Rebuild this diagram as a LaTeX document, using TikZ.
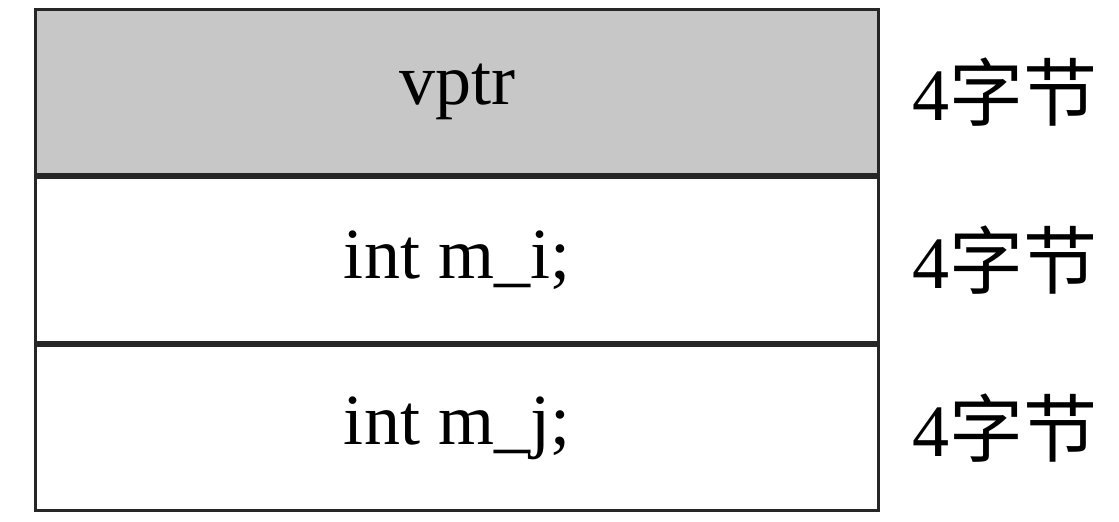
\documentclass[tikz,border=0pt]{standalone}
\usepackage{fontspec}
\setmainfont{Liberation Serif}
\newfontfamily\cjk{Noto Sans CJK SC}
\begin{document}
\begin{tikzpicture}[x=1pt,y=-1pt,
  cell/.style={draw=black!85,line width=3pt,minimum width=843pt,minimum height=165pt,inner sep=0pt,font=\fontsize{72}{86}\selectfont},
  size/.style={font=\fontsize{74}{88}\selectfont,inner sep=0pt}]
\useasboundingbox (0,0) rectangle (1119,522);
\fill[white] (0,0) rectangle (1119,522);
\node[cell,fill=black!22,anchor=north west] (vptr) at (34,8) {vptr};
\node[cell,anchor=north] (mi) at (vptr.south) {int m\_i;};
\node[cell,anchor=north] (mj) at (mi.south) {int m\_j;};
\node[size] (s1) at ([xshift=125pt]vptr.east) {4{\cjk 字节}};
\node[size] (s2) at ([xshift=125pt]mi.east) {4{\cjk 字节}};
\node[size] (s3) at ([xshift=125pt]mj.east) {4{\cjk 字节}};
\end{tikzpicture}
\end{document}
